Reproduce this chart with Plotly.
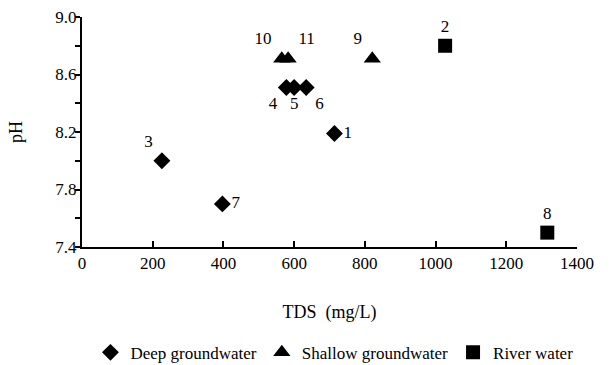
import plotly.graph_objects as go

# Data
deep_ids = ["1", "3", "4", "5", "6", "7"]
deep_tds = [714, 226, 578, 600, 634, 397]
deep_ph = [8.19, 8.0, 8.51, 8.51, 8.51, 7.7]
deep_pos = ["middle right", "top left", "bottom left", "bottom center", "bottom right", "middle right"]

shallow_ids = ["9", "10", "11"]
shallow_tds = [821, 565, 583]
shallow_ph = [8.71, 8.71, 8.71]
shallow_pos = ["top left", "top left", "top right"]

river_ids = ["2", "8"]
river_tds = [1027, 1316]
river_ph = [8.8, 7.5]
river_pos = ["top center", "top center"]

x_ticks = [0, 200, 400, 600, 800, 1000, 1200, 1400]
y_ticks = [7.4, 7.8, 8.2, 8.6, 9.0]

FONT = "Times New Roman"
tf = dict(family=FONT, size=17, color="black")

fig = go.Figure()
fig.add_trace(go.Scatter(x=deep_tds, y=deep_ph, mode="markers+text", text=deep_ids,
                         textposition=deep_pos, textfont=tf, name="Deep groundwater",
                         marker=dict(symbol="diamond", size=13, color="black")))
fig.add_trace(go.Scatter(x=shallow_tds, y=shallow_ph, mode="markers+text", text=shallow_ids,
                         textposition=shallow_pos, textfont=tf, name="Shallow groundwater",
                         marker=dict(symbol="triangle-up", size=15, color="black")))
fig.add_trace(go.Scatter(x=river_tds, y=river_ph, mode="markers+text", text=river_ids,
                         textposition=river_pos, textfont=tf, name="River water",
                         marker=dict(symbol="square", size=14, color="black")))

fig.update_layout(
    width=616, height=365,
    margin=dict(l=82, r=39, t=17, b=118, autoexpand=False),
    plot_bgcolor="white", paper_bgcolor="white",
    font=dict(family=FONT, size=17, color="black"),
    showlegend=True,
    legend=dict(orientation="h", x=0.51, xanchor="center", y=-0.46, yanchor="middle",
                font=dict(family=FONT, size=17, color="black"), itemwidth=30,
                tracegroupgap=0),
    xaxis=dict(range=[0, 1400], tickvals=x_ticks, ticktext=[str(v) for v in x_ticks],
               automargin=False,
               showgrid=False, zeroline=False, showline=True, linecolor="black", linewidth=2,
               ticks="inside", ticklen=6, tickwidth=2, tickcolor="black",
               tickfont=dict(family=FONT, size=17, color="black"),
               title=dict(text="TDS\u00a0\u00a0(mg/L)", standoff=33,
                          font=dict(family=FONT, size=18, color="black"))),
    yaxis=dict(range=[7.4, 9.0], tickvals=y_ticks, ticktext=["%.1f" % v for v in y_ticks],
               automargin=False,
               showgrid=False, zeroline=False, showline=True, linecolor="black", linewidth=2,
               ticks="", tickfont=dict(family=FONT, size=17, color="black"),
               minor=dict(dtick=0.2, tick0=7.4, ticks="outside", ticklen=5, tickwidth=2, tickcolor="black"),
               title=dict(text="pH", standoff=28,
                          font=dict(family=FONT, size=18, color="black"))),
)

fig.write_html("out.html", config={"displayModeBar": False},
               post_script="document.body.style.margin='0px';")
